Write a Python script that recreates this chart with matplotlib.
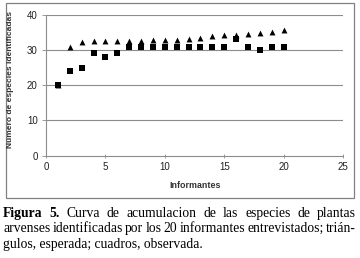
import matplotlib
matplotlib.use("Agg")
import matplotlib.pyplot as plt
from matplotlib.patches import Rectangle

informantes = list(range(1, 21))
esperada = [20, 31.1, 32.5, 32.8, 32.8, 32.8, 32.7, 32.7, 33.0, 33.0,
            33.1, 33.4, 33.6, 34.0, 34.4, 34.4, 34.6, 34.9, 35.3, 35.7]
observada = [20, 24, 25, 29.2, 28.1, 29.2, 31, 31, 31, 31,
             31, 31, 31, 31, 31, 33.2, 31, 30.1, 31, 31]
xticks = [0, 5, 10, 15, 20, 25]
yticks = [0, 10, 20, 30, 40]
xlabel = "Informantes"
ylabel = "Número de especies identificadas"
cap_line1 = ["Figura", "5.", "Curva", "de", "acumulacion", "de", "las", "especies", "de", "plantas"]
cap_line2 = ["arvenses", "identificadas", "por", "los", "20", "informantes", "entrevistados;", "trián-"]
cap_line3 = "gulos, esperada; cuadros, observada."

W, H = 360, 258
fig = plt.figure(figsize=(W / 100, H / 100), dpi=100)
fig.patch.set_facecolor("white")

def fx(px):
    return px / W

def fy(py):
    return 1 - py / H

# chart frame
fig.patches.append(Rectangle((fx(6), fy(198)), fx(354) - fx(6), fy(3) - fy(198),
                             transform=fig.transFigure, fill=False,
                             edgecolor="#808080", linewidth=0.9))

ax = fig.add_axes([fx(46), fy(155.5), fx(343) - fx(46), fy(15.4) - fy(155.5)])
ax.set_xlim(0, 25)
ax.set_ylim(0, 40)
ax.set_xticks(xticks)
ax.set_yticks(yticks)
for v in yticks[1:]:
    ax.axhline(v, color="#8c8c8c", linewidth=0.8, zorder=1)
for s in ["top", "right"]:
    ax.spines[s].set_visible(False)
for s in ["left", "bottom"]:
    ax.spines[s].set_color("#8c8c8c")
    ax.spines[s].set_linewidth(0.8)
ax.tick_params(axis="x", direction="inout", length=3, width=0.6, colors="#8c8c8c",
               labelcolor="#222222", labelsize=7, pad=3)
ax.tick_params(axis="y", direction="out", length=3, width=0.6, colors="#8c8c8c",
               labelcolor="#222222", labelsize=7, pad=3)
for lab in ax.get_xticklabels() + ax.get_yticklabels():
    lab.set_family("Liberation Sans")

ax.scatter(informantes, esperada, marker="^", s=18, color="black", zorder=3, linewidths=0)
ax.scatter(informantes, observada, marker="s", s=16, color="black", zorder=4, linewidths=0)

fig.text(fx(195), fy(185), xlabel, ha="center", va="center", fontsize=6.4,
         family="Liberation Sans", fontweight="bold", color="#333333")
fig.text(fx(10.5), fy(80), ylabel, ha="center", va="center", rotation=90, fontsize=6.0,
         family="Liberation Sans", fontweight="bold", color="#333333")

# caption, justified
fs = 9.8
fig.canvas.draw()
renderer = fig.canvas.get_renderer()
left, right = 3, 356

def justify(words, bold_n, baseline):
    texts = []
    widths = []
    for i, w in enumerate(words):
        t = fig.text(0, fy(baseline), w, fontsize=fs, family="Liberation Serif",
                     fontweight="bold" if i < bold_n else "normal", va="baseline", ha="left")
        texts.append(t)
        widths.append(t.get_window_extent(renderer).width)
    gap = (right - left - sum(widths)) / (len(words) - 1)
    x = left
    for t, wd in zip(texts, widths):
        t.set_x(fx(x))
        x += wd + gap

justify(cap_line1, 2, 216.7)
justify(cap_line2, 0, 232.2)
fig.text(fx(left), fy(247.8), cap_line3, fontsize=fs, family="Liberation Serif",
         va="baseline", ha="left")

fig.savefig("out.png", dpi=100, facecolor="white")
